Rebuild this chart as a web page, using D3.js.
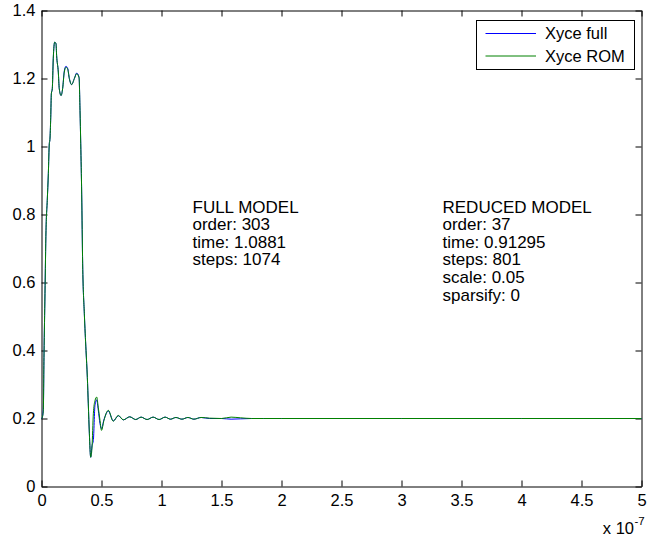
<!DOCTYPE html>
<html>
<head>
<meta charset="utf-8">
<script src="https://cdn.jsdelivr.net/npm/d3@7"></script>
<style>
	body { margin: 0; background: #fff; }
	svg text { font-family: "Liberation Sans", Arial, sans-serif; fill: #000; }
</style>
</head>
<body>
<svg width="653" height="540"></svg>
<script>
// time in units of 1e-7 s
var time = [0, 0.002, 0.015, 0.021, 0.029, 0.0375, 0.048, 0.057, 0.065, 0.07,
	0.077, 0.082, 0.09, 0.098, 0.11, 0.121, 0.126, 0.14, 0.148, 0.163,
	0.176, 0.19, 0.204, 0.218, 0.232, 0.251, 0.274, 0.293, 0.313, 0.321,
	0.327, 0.335, 0.343, 0.357, 0.371, 0.382, 0.39, 0.399, 0.41, 0.421,
	0.432, 0.446, 0.46, 0.473, 0.4875, 0.5, 0.52, 0.557, 0.598, 0.64,
	0.682, 0.735, 0.785, 0.83, 0.88, 0.93, 0.98, 1.03, 1.075, 1.12,
	1.17, 1.22, 1.27, 1.33, 1.4, 1.5, 1.58, 1.66, 1.75, 1.85,
	2.0, 3.0, 4.0, 5.0];

var xyceFull = [0.2, 0.2, 0.224, 0.39, 0.567, 0.753, 0.841, 0.92, 1.008, 1.02,
	1.086, 1.155, 1.17, 1.258, 1.307, 1.302, 1.268, 1.219, 1.17, 1.15,
	1.17, 1.222, 1.236, 1.23, 1.2, 1.182, 1.2, 1.216, 1.204, 1.106,
	1.008, 0.86, 0.655, 0.508, 0.4, 0.321, 0.243, 0.155, 0.086, 0.12,
	0.135, 0.24, 0.255, 0.225, 0.185, 0.17, 0.196, 0.222, 0.193, 0.208,
	0.196, 0.205, 0.197, 0.204, 0.197, 0.204, 0.197, 0.204, 0.198, 0.203,
	0.198, 0.203, 0.198, 0.203, 0.2, 0.2, 0.198, 0.199, 0.2, 0.2,
	0.2, 0.2, 0.2, 0.2];

var xyceRom = [0.2, 0.2, 0.22, 0.39, 0.567, 0.753, 0.841, 0.92, 1.008, 1.02,
	1.086, 1.155, 1.17, 1.258, 1.307, 1.302, 1.268, 1.219, 1.17, 1.15,
	1.17, 1.219, 1.233, 1.228, 1.2, 1.182, 1.2, 1.214, 1.202, 1.106,
	1.008, 0.86, 0.655, 0.508, 0.4, 0.321, 0.243, 0.155, 0.086, 0.116,
	0.214, 0.253, 0.263, 0.233, 0.194, 0.165, 0.194, 0.224, 0.192, 0.209,
	0.196, 0.205, 0.197, 0.204, 0.197, 0.204, 0.197, 0.204, 0.198, 0.203,
	0.198, 0.203, 0.198, 0.203, 0.201, 0.2, 0.204, 0.202, 0.2, 0.2,
	0.2, 0.2, 0.2, 0.2];

var seriesNames = ["Xyce full", "Xyce ROM"];
var seriesColors = ["#0000ff", "#008000"];

var xTicks = [0, 0.5, 1, 1.5, 2, 2.5, 3, 3.5, 4, 4.5, 5];
var yTicks = [0, 0.2, 0.4, 0.6, 0.8, 1, 1.2, 1.4];
var xExponent = "-7";

var fullText = ["FULL MODEL", "order: 303", "time: 1.0881", "steps: 1074"];
var reducedText = ["REDUCED MODEL", "order: 37", "time: 0.91295", "steps: 801", "scale: 0.05", "sparsify: 0"];

var svg = d3.select("svg");
var plotLeft = 41.5, plotRight = 641.5, plotTop = 10.5, plotBottom = 486.5;

var x = d3.scaleLinear().domain([0, 5]).range([plotLeft, plotRight]);
var y = d3.scaleLinear().domain([0, 1.4]).range([plotBottom, plotTop]);

function fmt(d) { return String(d); }

// axes, ticks pointing inward, mirrored on top and right
svg.append("g")
	.attr("transform", "translate(0," + plotBottom + ")")
	.call(d3.axisBottom(x).tickValues(xTicks).tickFormat(fmt).tickSizeInner(-6).tickSizeOuter(0).tickPadding(8));
svg.append("g")
	.attr("transform", "translate(" + plotLeft + ",0)")
	.call(d3.axisLeft(y).tickValues(yTicks).tickFormat(fmt).tickSizeInner(-6).tickSizeOuter(0).tickPadding(6));
svg.append("g")
	.attr("transform", "translate(0," + plotTop + ")")
	.call(d3.axisTop(x).tickValues(xTicks).tickFormat("").tickSizeInner(-6).tickSizeOuter(0));
svg.append("g")
	.attr("transform", "translate(" + plotRight + ",0)")
	.call(d3.axisRight(y).tickValues(yTicks).tickFormat("").tickSizeInner(-6).tickSizeOuter(0));

svg.selectAll(".domain").attr("stroke", "#000").attr("stroke-width", 1);
svg.selectAll(".tick line").attr("stroke", "#000").attr("stroke-width", 1);
svg.selectAll(".tick text").style("font-size", "16.5px").attr("fill", "#000");

// exponent label
svg.append("text")
	.attr("x", 634).attr("y", 534)
	.attr("text-anchor", "end")
	.style("font-size", "16.5px")
	.text("x 10");
svg.append("text")
	.attr("x", 634.5).attr("y", 525)
	.style("font-size", "11.5px")
	.text(xExponent);

// curves
var series = [xyceFull, xyceRom];
var line = d3.line()
	.x(function(d, i) { return x(time[i]); })
	.y(function(d) { return y(d); })
	.curve(d3.curveMonotoneX);

svg.append("g").selectAll("path")
	.data(series)
	.enter().append("path")
	.attr("d", line)
	.attr("fill", "none")
	.attr("stroke", function(d, i) { return seriesColors[i]; })
	.attr("stroke-width", 1);

// annotations
function textBlock(lines, x0, y0) {
	svg.append("text")
		.attr("x", x0).attr("y", y0)
		.style("font-size", "17px")
		.selectAll("tspan")
		.data(lines)
		.enter().append("tspan")
		.attr("x", x0)
		.attr("dy", function(d, i) { return i == 0 ? 0 : 17.6; })
		.text(function(d) { return d; });
}
textBlock(fullText, 192.5, 212.5);
textBlock(reducedText, 442.5, 212.5);

// legend
var legend = svg.append("g");
legend.append("rect")
	.attr("x", 476.5).attr("y", 20.5)
	.attr("width", 158).attr("height", 49)
	.attr("fill", "#fff")
	.attr("stroke", "#000")
	.attr("stroke-width", 1);

seriesNames.forEach(function(name, i) {
	var yy = 33.5 + i * 22.5;
	legend.append("line")
		.attr("x1", 485.5).attr("x2", 536)
		.attr("y1", yy).attr("y2", yy)
		.attr("stroke", seriesColors[i])
		.attr("stroke-width", 1);
	legend.append("text")
		.attr("x", 545).attr("y", yy).attr("dy", "0.36em")
		.style("font-size", "16.5px")
		.text(name);
});
</script>
</body>
</html>
